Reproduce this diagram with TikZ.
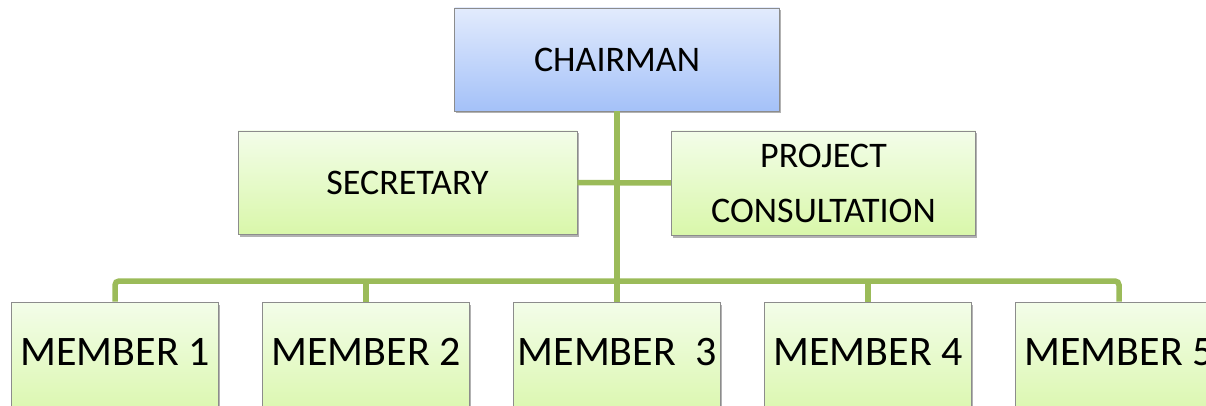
\documentclass[tikz,border=0pt]{standalone}
\usepackage{fontspec}
\setmainfont{Carlito}
\usepackage{tikz}
\usetikzlibrary{positioning,shadows}
\definecolor{linkgreen}{HTML}{9BBB59}
\definecolor{boxgrey}{HTML}{8C8C8C}
\definecolor{bluetop}{HTML}{E2EBFD}
\definecolor{bluebot}{HTML}{A4C1F8}
\definecolor{greentop}{HTML}{F3FDE9}
\definecolor{greenbot}{HTML}{D9F7AA}

\begin{document}
\begin{tikzpicture}[x=1pt,y=-1pt,
    post/.style={draw=boxgrey, line width=0.8pt, inner sep=2pt,
      drop shadow={shadow xshift=1.5pt, shadow yshift=-2.5pt, fill=black, opacity=0.3}},
    headpost/.style={post, top color=bluetop, bottom color=bluebot},
    staffpost/.style={post, top color=greentop, bottom color=greenbot},
    memberpost/.style={staffpost, minimum width=207.2pt, minimum height=120pt,
      text depth=20pt, font=\fontsize{42}{50}\selectfont},
    link/.style={draw=linkgreen, line width=5.5pt}]
  \useasboundingbox (0,0) rectangle (1206,406);
  \node [headpost, minimum width=325pt, minimum height=103pt,
    font=\fontsize{36}{43}\selectfont] (Chair) at (617,59.5) {CHAIRMAN};
  \node [staffpost, minimum width=339pt, minimum height=103pt,
    font=\fontsize{36}{43}\selectfont] (Sec) at (407.5,182.5) {SECRETARY};
  \node [staffpost, minimum width=304pt, minimum height=104pt, align=center,
    font=\fontsize{36}{55}\selectfont] (Proj) at (823.5,183) {PROJECT\\CONSULTATION};
  \node [memberpost] (M1) at (115,362) {MEMBER 1};
  \node [memberpost, right=43pt of M1] (M2) {MEMBER 2};
  \node [memberpost, right=43pt of M2] (M3) {MEMBER\ \ 3};
  \node [memberpost, right=43pt of M3] (M4) {MEMBER 4};
  \node [memberpost, right=43pt of M4] (M5) {MEMBER 5};
  \coordinate (Bus) at (Chair.south |- 0,281);
  \draw [link] (Chair) -- (Bus);
  \draw [link] (Sec) -- (Proj);
  \draw [link, rounded corners=4pt] (M1.north) |- (Bus) -| (M5.north);
  \draw [link] (M2.north) -- (M2.north |- Bus);
  \draw [link] (M3.north) -- (M3.north |- Bus);
  \draw [link] (M4.north) -- (M4.north |- Bus);
\end{tikzpicture}
\end{document}
